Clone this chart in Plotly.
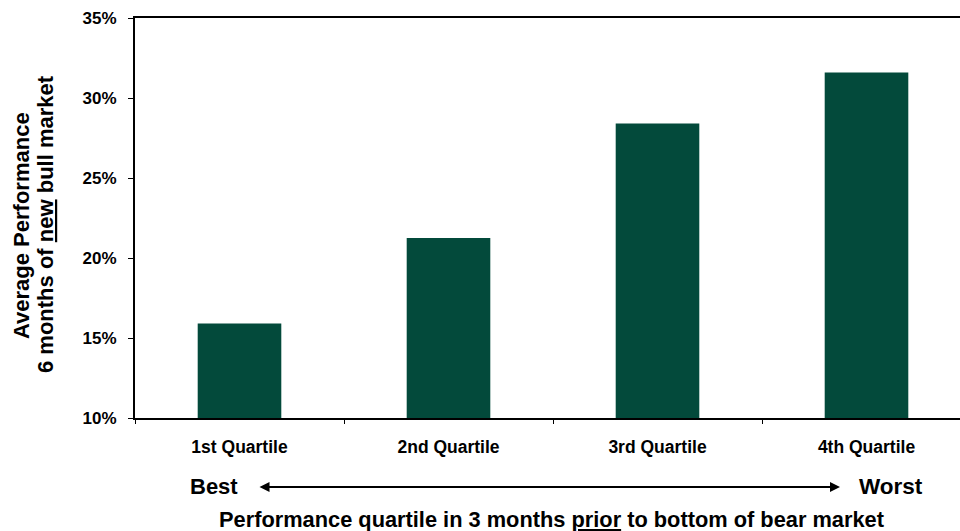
import plotly.graph_objects as go

categories = ["1st Quartile", "2nd Quartile", "3rd Quartile", "4th Quartile"]
values = [15.9, 21.25, 28.4, 31.6]
y_ticks = [10, 15, 20, 25, 30, 35]
y_tick_labels = ["10%", "15%", "20%", "25%", "30%", "35%"]

FONT = "Liberation Sans, Arial, sans-serif"
BAR_COLOR = "#034a3b"

fig = go.Figure()
fig.add_trace(go.Bar(x=categories, y=values, marker=dict(color=BAR_COLOR, line=dict(width=0)),
                     width=0.4, hoverinfo="x+y"))

W, H = 960, 531
ml, mr, mt, mb = 135, 0, 18, 113
cat_w = 209
xmax = -0.5 + (W - ml - mr) / cat_w
PW, PH = W - ml - mr, H - mt - mb

fig.update_layout(
    width=W, height=H,
    margin=dict(l=ml, r=mr, t=mt, b=mb),
    plot_bgcolor="white", paper_bgcolor="white",
    showlegend=False,
    font=dict(family=FONT, color="black"),
    xaxis=dict(
        type="category", range=[-0.5, xmax],
        showline=True, linecolor="black", linewidth=2, mirror=True,
        ticks="outside", tickson="boundaries", ticklen=4, tickcolor="black", tickwidth=1,
        tickfont=dict(family=FONT, size=17.5, color="black", weight="bold"),
        ticklabelstandoff=12,
        showgrid=False,
    ),
    yaxis=dict(
        range=[10, 35], tickvals=y_ticks, ticktext=y_tick_labels,
        showline=True, linecolor="black", linewidth=2,
        ticks="outside", ticklen=5, tickcolor="black", tickwidth=1,
        tickfont=dict(family=FONT, size=17, color="black", weight="bold"),
        ticklabelstandoff=8,
        showgrid=False, zeroline=False,
    ),
)

def px_x(x):
    return (x - ml) / PW

def px_y(y):
    return (H - mb - y) / PH

# Y axis title (two lines, with underline)
fig.add_annotation(xref="paper", yref="paper", x=px_x(21), y=px_y(226), xanchor="center", yanchor="middle",
                   text="<b>Average Performance</b>",
                   textangle=-90, showarrow=False,
                   font=dict(family=FONT, size=22, color="black"))
fig.add_annotation(xref="paper", yref="paper", x=px_x(45), y=px_y(224), xanchor="center", yanchor="middle",
                   text="<b>6 months of <u>new</u> bull market</b>",
                   textangle=-90, showarrow=False,
                   font=dict(family=FONT, size=22, color="black"))

# Best / Worst labels and arrow
fig.add_annotation(xref="paper", yref="paper", x=px_x(214), y=px_y(487),
                   text="<b>Best</b>", showarrow=False, xanchor="center", yanchor="middle",
                   font=dict(family=FONT, size=22, color="black"))
fig.add_annotation(xref="paper", yref="paper", x=px_x(891), y=px_y(487),
                   text="<b>Worst</b>", showarrow=False, xanchor="center", yanchor="middle",
                   font=dict(family=FONT, size=22.5, color="black"))
fig.add_annotation(xref="x domain", yref="y domain",
                   x=px_x(840), y=px_y(487),
                   ax=px_x(258), ay=px_y(487),
                   axref="x domain", ayref="y domain",
                   text="", showarrow=True, arrowhead=2, arrowside="end+start",
                   arrowsize=1, arrowwidth=2, arrowcolor="black")

# Bottom title
fig.add_annotation(xref="paper", yref="paper", x=px_x(551), y=px_y(519),
                   text="<b>Performance quartile in 3 months <u>prior</u> to bottom of bear market</b>",
                   showarrow=False, xanchor="center", yanchor="middle",
                   font=dict(family=FONT, size=21.8, color="black"))

fig.write_html("out.html")
